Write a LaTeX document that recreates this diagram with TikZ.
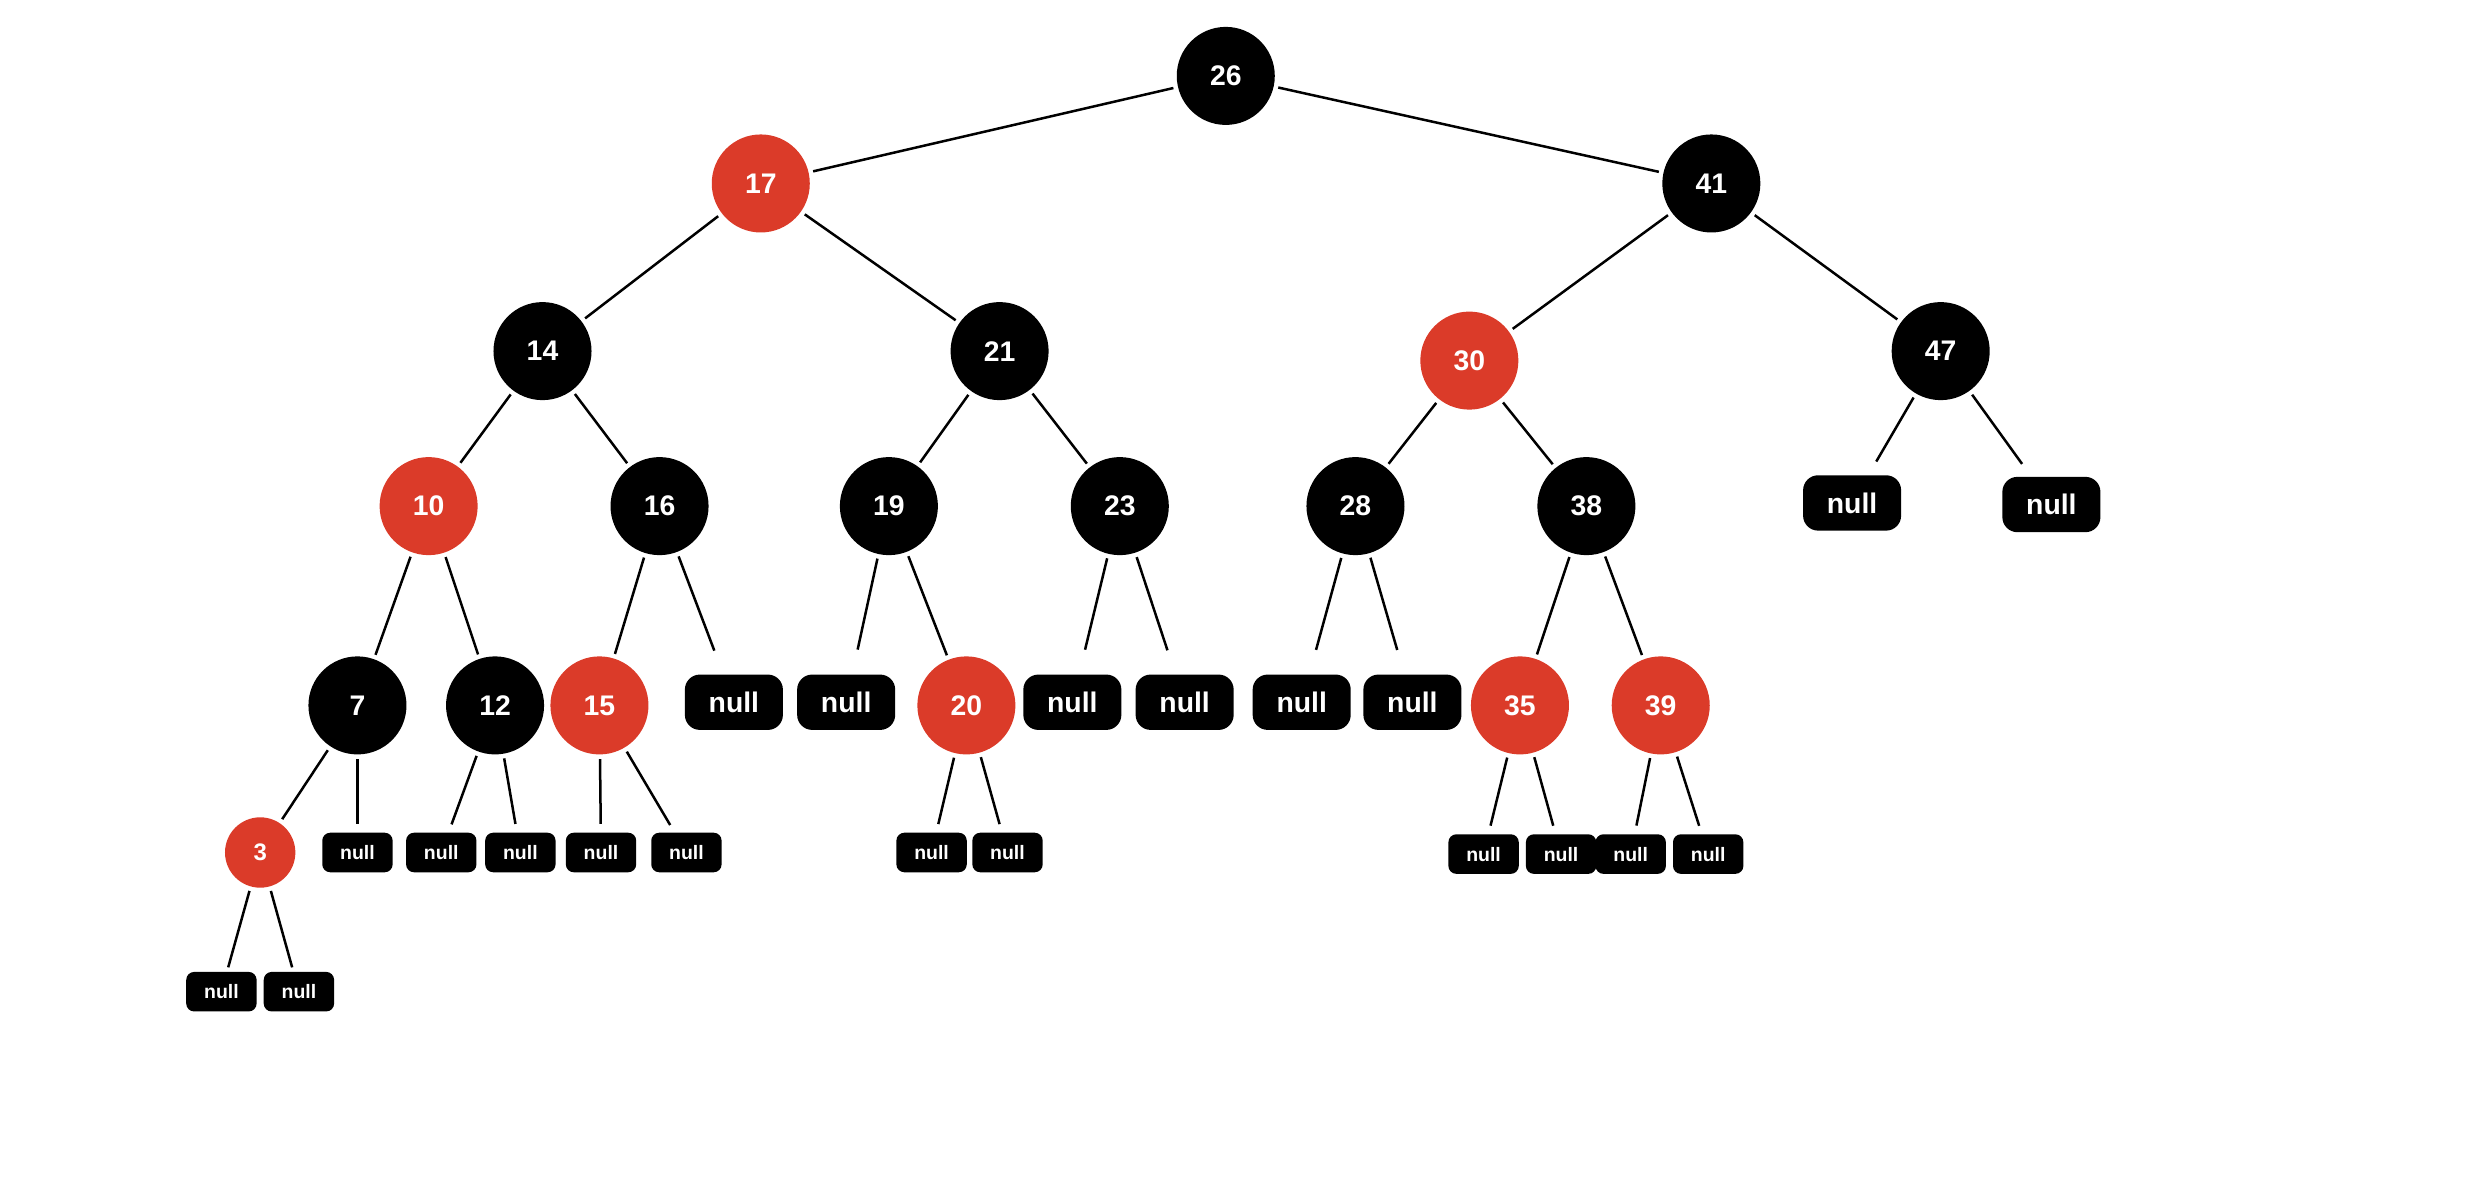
\documentclass[tikz,border=0pt]{standalone}
\usepackage{fontspec}
\newfontfamily\nodefont{Liberation Sans}
\usetikzlibrary{positioning}
\definecolor{rbred}{RGB}{219,59,41}

\begin{document}
\begin{tikzpicture}[x=0.02cm, y=-0.02cm,
  blacknode/.style={circle, fill=black, text=white, minimum size=1.24cm, inner sep=0pt,
    font=\nodefont\bfseries\fontsize{10.2}{12}\selectfont},
  rednode/.style={blacknode, fill=rbred},
  leaf/.style={rounded corners=0.19cm, fill=black, text=white, minimum width=1.24cm,
    minimum height=0.70cm, inner sep=0pt, font=\nodefont\bfseries\fontsize{10.2}{12}\selectfont},
  smallleaf/.style={leaf, rounded corners=0.1cm, minimum width=0.89cm, minimum height=0.50cm,
    font=\nodefont\bfseries\fontsize{7}{9}\selectfont},
  link/.style={draw, line width=0.9pt, shorten <=1.5pt, shorten >=1.5pt}]
  \useasboundingbox (0,0) rectangle (1568,758.7);

  % keys
  \node[blacknode] (k26) at (775,48) {26};
  \node[rednode] (k17) at (481,116) {17};
  \node[blacknode] (k41) at (1082,116) {41};
  \node[blacknode] (k14) at (343,222) {14};
  \node[blacknode] (k21) at (632,222) {21};
  \node[rednode] (k30) at (929,228) {30};
  \node[blacknode] (k47) at (1227,222) {47};
  \node[rednode] (k10) at (271,320) {10};
  \node[blacknode] (k16) at (417,320) {16};
  \node[blacknode] (k19) at (562,320) {19};
  \node[blacknode] (k23) at (708,320) {23};
  \node[blacknode] (k28) at (857,320) {28};
  \node[blacknode] (k38) at (1003,320) {38};
  \node[blacknode] (k7) at (226,446) {7};
  \node[blacknode] (k12) at (313,446) {12};
  \node[rednode] (k15) at (379,446) {15};
  \node[rednode] (k20) at (611,446) {20};
  \node[rednode] (k35) at (961,446) {35};
  \node[rednode] (k39) at (1050,446) {39};
  \node[rednode, minimum size=0.89cm, font=\nodefont\bfseries\fontsize{8.6}{10}\selectfont] (k3) at (164.5,539) {3};

  % null leaves
  \node[leaf] (n47l) at (1171,318) {null};
  \node[leaf] (n47r) at (1297,319) {null};
  \node[leaf] (n16r) at (464,444) {null};
  \node[leaf] (n19l) at (535,444) {null};
  \node[leaf] (n23l) at (678,444) {null};
  \node[leaf] (n23r) at (749,444) {null};
  \node[leaf] (n28l) at (823,444) {null};
  \node[leaf] (n28r) at (893,444) {null};
  \node[smallleaf] (n7r) at (226,539) {null};
  \node[smallleaf] (n12l) at (279,539) {null};
  \node[smallleaf] (n12r) at (329,539) {null};
  \node[smallleaf] (n15l) at (380,539) {null};
  \node[smallleaf] (n15r) at (434,539) {null};
  \node[smallleaf] (n20l) at (589,539) {null};
  \node[smallleaf] (n20r) at (637,539) {null};
  \node[smallleaf] (n35l) at (938,540) {null};
  \node[smallleaf] (n35r) at (987,540) {null};
  \node[smallleaf] (n39l) at (1031,540) {null};
  \node[smallleaf] (n39r) at (1080,540) {null};
  \node[smallleaf] (n3l) at (140,627) {null};
  \node[smallleaf] (n3r) at (189,627) {null};

  \path[link]
  (k26) edge (k17)
  (k26) edge (k41)
  (k17) edge (k14)
  (k17) edge (k21)
  (k41) edge (k30)
  (k41) edge (k47)
  (k14) edge (k10)
  (k14) edge (k16)
  (k21) edge (k19)
  (k21) edge (k23)
  (k30) edge (k28)
  (k30) edge (k38)
  (k47) edge[shorten >=5.5pt] (n47l)
  (k47) edge[shorten >=5.5pt] (n47r)
  (k10) edge (k7)
  (k10) edge (k12)
  (k16) edge (k15)
  (k16) edge[shorten >=9pt] (n16r)
  (k19) edge[shorten >=9pt] (n19l)
  (k19) edge (k20)
  (k23) edge[shorten >=9pt] (n23l)
  (k23) edge[shorten >=9pt] (n23r)
  (k28) edge[shorten >=9pt] (n28l)
  (k28) edge[shorten >=9pt] (n28r)
  (k38) edge (k35)
  (k38) edge (k39)
  (k7) edge (k3)
  (k7) edge[shorten >=3pt] (n7r)
  (k12) edge[shorten >=3pt] (n12l)
  (k12) edge[shorten >=3pt] (n12r)
  (k15) edge[shorten >=3pt] (n15l)
  (k15) edge[shorten >=3pt] (n15r)
  (k20) edge[shorten >=3pt] (n20l)
  (k20) edge[shorten >=3pt] (n20r)
  (k35) edge[shorten >=3pt] (n35l)
  (k35) edge[shorten >=3pt] (n35r)
  (k39) edge[shorten >=3pt] (n39l)
  (k39) edge[shorten >=3pt] (n39r)
  (k3) edge (n3l)
  (k3) edge (n3r)
  ;
\end{tikzpicture}
\end{document}
